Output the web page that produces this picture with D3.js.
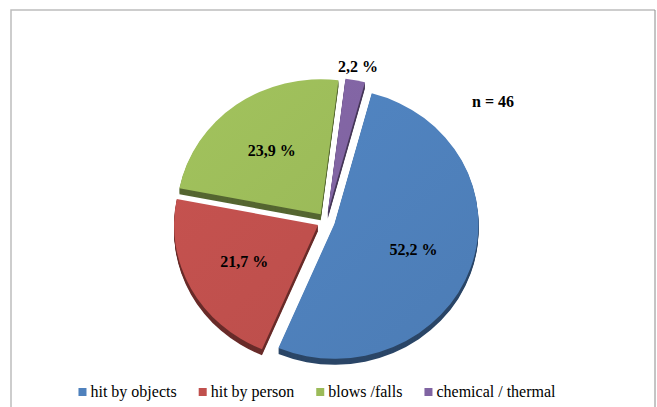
<!DOCTYPE html>
<html>
<head>
<meta charset="utf-8">
<script src="https://cdn.jsdelivr.net/npm/d3@7"></script>
<style>
  html, body { margin: 0; padding: 0; background: #fff; }
  svg { display: block; }
  text { font-family: "Liberation Serif", "Times New Roman", serif; }
</style>
</head>
<body>
<div id="chart"></div>
<script>
const categories = ['hit by objects', 'hit by person', 'blows /falls', 'chemical / thermal'];
const values = [52.2, 21.7, 23.9, 2.2];
const valueLabels = ['52,2 %', '21,7 %', '23,9 %', '2,2 %'];
const colors = ['#4f81bd', '#c0504d', '#9bbb59', '#8064a2'];
const note = 'n = 46';

const width = 657, height = 407;
const cx = 326, cy = 221;
const rx = 144, ry = 135;   // tilted pie -> ellipse
const k = ry / rx;
const explode = 9, depth = 6;
const firstAngle = 15 * Math.PI / 180;

const svg = d3.select('#chart').append('svg')
  .attr('width', width)
  .attr('height', height);

// outer frame
svg.append('path')
  .attr('d', 'M11,420 V10 H655')
  .attr('fill', 'none')
  .attr('stroke', '#bdbdbd')
  .attr('stroke-width', 1.5);
svg.append('line')
  .attr('x1', 655).attr('y1', 10)
  .attr('x2', 655).attr('y2', 420)
  .attr('stroke', '#8a8a8a')
  .attr('stroke-width', 1);

const pie = d3.pie()
  .sort(null)
  .value(d => d)
  .startAngle(firstAngle)
  .endAngle(firstAngle + 2 * Math.PI);

const arcs = pie(values);
const arc = d3.arc().innerRadius(0).outerRadius(rx);

const mid = d => (d.startAngle + d.endAngle) / 2;
const offset = d => [explode * Math.sin(mid(d)), -explode * Math.cos(mid(d))];

// soft lighting on the faces
const defs = svg.append('defs');
colors.forEach((c, i) => {
  const grad = defs.append('linearGradient')
    .attr('id', 'face' + i)
    .attr('gradientUnits', 'userSpaceOnUse')
    .attr('x1', -rx).attr('y1', -rx)
    .attr('x2', rx).attr('y2', rx);
  grad.append('stop').attr('offset', 0).attr('stop-color', d3.color(c).brighter(0.12));
  grad.append('stop').attr('offset', 1).attr('stop-color', d3.color(c).darker(0.12));
});

const g = svg.append('g')
  .attr('transform', `translate(${cx},${cy}) scale(1,${k})`);

const slices = g.selectAll('g.slice').data(arcs).enter()
  .append('g')
    .attr('class', 'slice')
    .attr('transform', d => {
      const [ox, oy] = offset(d);
      return `translate(${ox},${oy})`;
    });

// side walls: stacked dark copies
slices.each(function(d, i) {
  const s = d3.select(this);
  for (let z = depth; z >= 1; z--) {
    s.append('path')
      .attr('d', arc(d))
      .attr('transform', `translate(0,${z / k})`)
      .attr('fill', d3.color(colors[i]).darker(1.7));
  }
});

// top faces
slices.append('path')
  .attr('d', arc)
  .attr('fill', (d, i) => `url(#face${i})`);

// labels
const fracInside = 0.58, fracOutside = 1.1;
svg.append('g').selectAll('text').data(arcs).enter()
  .append('text')
    .attr('x', (d, i) => {
      const f = values[i] < 5 ? fracOutside : fracInside;
      return cx + offset(d)[0] + f * rx * Math.sin(mid(d));
    })
    .attr('y', (d, i) => {
      const f = values[i] < 5 ? fracOutside : fracInside;
      return cy + k * (offset(d)[1] - f * rx * Math.cos(mid(d)));
    })
    .attr('text-anchor', 'middle')
    .attr('dominant-baseline', 'central')
    .style('font-weight', 'bold')
    .style('font-size', '16px')
    .attr('fill', '#000')
    .text((d, i) => valueLabels[i]);

svg.append('text')
  .attr('x', 493).attr('y', 101)
  .attr('text-anchor', 'middle')
  .attr('dominant-baseline', 'central')
  .style('font-weight', 'bold')
  .style('font-size', '16px')
  .text(note);

// legend
const legend = svg.append('g');
const items = legend.selectAll('g').data(categories).enter()
  .append('g');
items.append('rect')
  .attr('width', 8).attr('height', 8)
  .attr('y', -9)
  .attr('fill', (d, i) => colors[i]);
items.append('text')
  .attr('x', 12)
  .style('font-size', '16px')
  .attr('fill', '#000')
  .text(d => d);

let xPos = 0;
items.each(function() {
  const w = d3.select(this).select('text').node().getComputedTextLength();
  d3.select(this).attr('transform', `translate(${xPos},0)`);
  xPos += 12 + w + 22;
});
const legendWidth = xPos - 22;
legend.attr('transform', `translate(${317 - legendWidth / 2},397)`);
</script>
</body>
</html>
